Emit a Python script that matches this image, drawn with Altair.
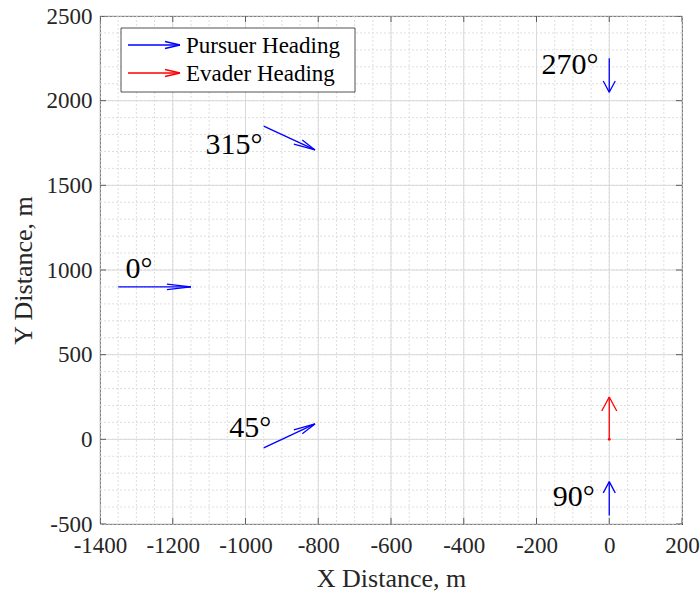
import altair as alt
import pandas as pd
import numpy as np

# ---------------- data ----------------
# Pursuer arrows (quiver): start point and vector components
pursuer_x = [-1350, -950, 0, 0, -950]
pursuer_y = [900, -50, -450, 2250, 1850]
pursuer_u = [200, 141, 0, 0, 141]
pursuer_v = [0, 141, 200, -200, -141]

# Evader arrow
evader_x = [0]
evader_y = [0]
evader_u = [0]
evader_v = [250]

# Angle labels (left edge, baseline)
label_text = ["0°", "45°", "90°", "270°", "315°"]
label_x = [-1330, -1045, -155, -186, -1110]
label_y = [955, 15, -395, 2155, 1685]

x_major = list(range(-1400, 201, 200))
y_major = list(range(-500, 2501, 500))
x_minor = list(range(-1400, 201, 50))
y_minor = list(range(-500, 2501, 100))

legend_labels = ["Pursuer Heading", "Evader Heading"]
legend_colors = ["#0000ff", "#ff0000"]

# ---------------- build segments (MATLAB quiver style heads) ----------------
ALPHA, BETA = 0.33, 0.25
rows = []
def add_arrows(xs, ys, us, vs, who):
    for x0, y0, u, v in zip(xs, ys, us, vs):
        ex, ey = x0 + u, y0 + v
        rows.append(dict(x=x0, y=y0, x2=ex, y2=ey, who=who))
        rows.append(dict(x=ex, y=ey, x2=ex - ALPHA * (u + BETA * v), y2=ey - ALPHA * (v - BETA * u), who=who))
        rows.append(dict(x=ex, y=ey, x2=ex - ALPHA * (u - BETA * v), y2=ey - ALPHA * (v + BETA * u), who=who))

add_arrows(pursuer_x, pursuer_y, pursuer_u, pursuer_v, "Pursuer")
add_arrows(evader_x, evader_y, evader_u, evader_v, "Evader")
seg = pd.DataFrame(rows)

FONT = "Liberation Serif, Times New Roman, serif"
AX = "#262626"

xs = alt.Scale(domain=[-1400, 200], nice=False, zero=False)
ys = alt.Scale(domain=[-500, 2500], nice=False, zero=False)
x_axis = alt.Axis(values=x_major, grid=False, ticks=False, title="X Distance, m",
                  labelExpr="datum.value + ''",
                  labelFont=FONT, labelFontSize=23, labelColor=AX, labelPadding=10,
                  titleFont=FONT, titleFontSize=26, titleFontWeight="normal", titleColor=AX,
                  titlePadding=8, domainColor=AX, labelFlush=False, labelOverlap=False)
y_axis = alt.Axis(values=y_major, grid=False, ticks=False, title="Y Distance, m",
                  labelExpr="datum.value + ''",
                  labelFont=FONT, labelFontSize=23, labelColor=AX, labelPadding=8,
                  titleFont=FONT, titleFontSize=26, titleFontWeight="normal", titleColor=AX,
                  titlePadding=10, domainColor=AX, labelFlush=False, labelOverlap=False)

color = alt.Color("who:N", scale=alt.Scale(domain=["Pursuer", "Evader"],
                                           range=["#0000ff", "#ff0000"]), legend=None)

gx_minor = alt.Chart(pd.DataFrame({"v": x_minor})).mark_rule(
    color="#dedede", strokeWidth=1, strokeDash=[2, 2]).encode(x=alt.X("v:Q", scale=xs, axis=x_axis))
gy_minor = alt.Chart(pd.DataFrame({"v": y_minor})).mark_rule(
    color="#dedede", strokeWidth=1, strokeDash=[2, 2]).encode(y=alt.Y("v:Q", scale=ys, axis=y_axis))
gx_major = alt.Chart(pd.DataFrame({"v": x_major})).mark_rule(
    color="#d9d9d9", strokeWidth=1).encode(x=alt.X("v:Q", scale=xs, axis=x_axis))
gy_major = alt.Chart(pd.DataFrame({"v": y_major})).mark_rule(
    color="#d9d9d9", strokeWidth=1).encode(y=alt.Y("v:Q", scale=ys, axis=y_axis))

arrows = alt.Chart(seg).mark_rule(strokeWidth=1.3).encode(
    x=alt.X("x:Q", scale=xs, axis=x_axis), y=alt.Y("y:Q", scale=ys, axis=y_axis),
    x2="x2:Q", y2="y2:Q", color=color)

dot = alt.Chart(pd.DataFrame({"x": evader_x, "y": evader_y})).mark_point(
    filled=True, size=8, color="#ff0000", opacity=1).encode(
    x=alt.X("x:Q", scale=xs, axis=x_axis), y=alt.Y("y:Q", scale=ys, axis=y_axis))

labels = alt.Chart(pd.DataFrame({"x": label_x, "y": label_y, "t": label_text})).mark_text(
    font=FONT, fontSize=30, align="left", baseline="alphabetic", color="#000000").encode(
    x=alt.X("x:Q", scale=xs, axis=x_axis), y=alt.Y("y:Q", scale=ys, axis=y_axis), text="t:N")

# inward ticks on all four sides
tick_x = pd.DataFrame({"x": x_major * 2, "y": [-500] * len(x_major) + [2500] * len(x_major)})
tick_y = pd.DataFrame({"y": y_major * 2, "x": [-1400] * len(y_major) + [200] * len(y_major)})
ticks_x = alt.Chart(tick_x).mark_tick(orient="vertical", clip=True, size=12, thickness=1, color=AX).encode(
    x=alt.X("x:Q", scale=xs, axis=x_axis), y=alt.Y("y:Q", scale=ys, axis=y_axis))
ticks_y = alt.Chart(tick_y).mark_tick(orient="horizontal", clip=True, size=12, thickness=1, color=AX).encode(
    x=alt.X("x:Q", scale=xs, axis=x_axis), y=alt.Y("y:Q", scale=ys, axis=y_axis))

# legend (manual, pixel positioned)
one = pd.DataFrame({"k": [0]})
leg_layers = [alt.Chart(one).mark_rect(fill="white", stroke=AX, strokeWidth=0.8).encode(
    x=alt.value(21), x2=alt.value(255), y=alt.value(12), y2=alt.value(76))]
for i, (lab, col) in enumerate(zip(legend_labels, legend_colors)):
    yy = 29 + 28 * i
    leg_layers.append(alt.Chart(one).mark_rule(color=col, strokeWidth=1.3).encode(
        x=alt.value(28), x2=alt.value(80), y=alt.value(yy), y2=alt.value(yy)))
    leg_layers.append(alt.Chart(one).mark_rule(color=col, strokeWidth=1.3).encode(
        x=alt.value(80), x2=alt.value(65), y=alt.value(yy), y2=alt.value(yy - 3.5)))
    leg_layers.append(alt.Chart(one).mark_rule(color=col, strokeWidth=1.3).encode(
        x=alt.value(80), x2=alt.value(65), y=alt.value(yy), y2=alt.value(yy + 3.5)))
    leg_layers.append(alt.Chart(one).mark_text(font=FONT, fontSize=23, align="left",
                                               baseline="middle", color="#000000").encode(
        x=alt.value(86), y=alt.value(yy + 1), text=alt.value(lab)))

chart = alt.layer(gx_minor, gy_minor, gx_major, gy_major, arrows, dot, labels,
                  ticks_x, ticks_y, *leg_layers).properties(
    width=582, height=508,
    autosize=alt.AutoSizeParams(type="none"),
    padding={"left": 100, "top": 16, "right": 18, "bottom": 70},
    background="white",
).configure_view(stroke=AX, strokeWidth=1)

chart.save("out.html", embed_options={"renderer": "svg", "actions": False})
